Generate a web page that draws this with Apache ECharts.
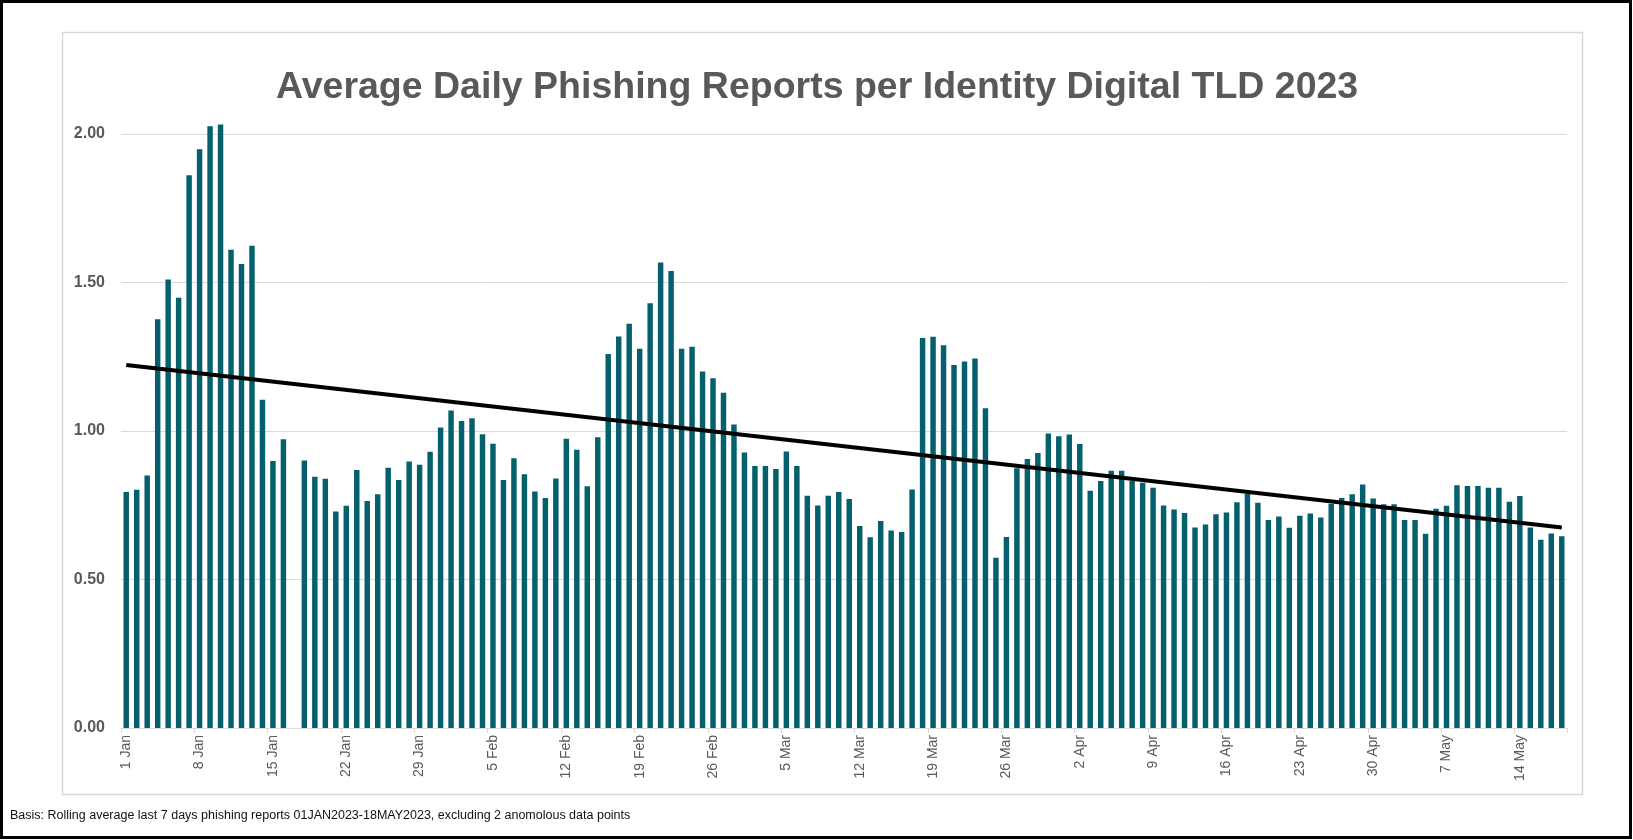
<!DOCTYPE html>
<html>
<head>
<meta charset="utf-8">
<script src="https://cdn.jsdelivr.net/npm/echarts@6/dist/echarts.min.js"></script>
<style>
  html, body { margin: 0; padding: 0; background: #fff; }
  #chart { width: 1633px; height: 840px; }
</style>
</head>
<body>
<div id="chart"></div>
<script>
// ---- data ----
const monthNames = ['Jan', 'Feb', 'Mar', 'Apr', 'May'];
const monthDays = [31, 28, 31, 30, 18];
const categories = [];
monthNames.forEach(function (m, i) {
  for (let d = 1; d <= monthDays[i]; d++) categories.push(d + ' ' + m);
});

// rolling 7-day average per TLD (17 Jan excluded as anomalous)
const valuesJan = [0.795, 0.802, 0.850, 1.376, 1.510, 1.449, 1.861, 1.949, 2.026, 2.032, 1.610, 1.562, 1.624, 1.105, 0.899, 0.972,
  null, 0.901, 0.846, 0.839, 0.729, 0.748, 0.869, 0.764, 0.787, 0.876, 0.835, 0.897, 0.886, 0.930, 1.012];
const valuesFeb = [1.069, 1.034, 1.043, 0.989, 0.957, 0.835, 0.908, 0.854, 0.796, 0.774, 0.840, 0.974, 0.937, 0.814,
  0.979, 1.259, 1.318, 1.361, 1.277, 1.430, 1.567, 1.539, 1.277, 1.284, 1.200, 1.178, 1.129, 1.022];
const valuesMar = [0.928, 0.882, 0.882, 0.872, 0.931, 0.882, 0.782, 0.749, 0.782, 0.795, 0.771, 0.680, 0.642, 0.697, 0.665,
  0.660, 0.803, 1.313, 1.317, 1.289, 1.222, 1.234, 1.244, 1.077, 0.573, 0.643, 0.875, 0.906, 0.926, 0.992, 0.982];
const valuesApr = [0.988, 0.956, 0.799, 0.832, 0.866, 0.866, 0.832, 0.826, 0.809, 0.749, 0.736, 0.724, 0.675, 0.685, 0.720,
  0.726, 0.760, 0.788, 0.758, 0.700, 0.712, 0.674, 0.715, 0.722, 0.709, 0.755, 0.774, 0.787, 0.820, 0.773];
const valuesMay = [0.753, 0.753, 0.700, 0.700, 0.654, 0.738, 0.748, 0.817, 0.815, 0.815, 0.809, 0.809, 0.762, 0.781,
  0.675, 0.634, 0.655, 0.646];
const values = valuesJan.concat(valuesFeb, valuesMar, valuesApr, valuesMay);

// trend line end points (first day, last day)
const trendValues = [1.222, 0.675];

const yTicks = { min: 0, max: 2, interval: 0.5 };

const titleText = 'Average Daily Phishing Reports per Identity Digital TLD 2023';
const footnote = 'Basis: Rolling average last 7 days phishing reports 01JAN2023-18MAY2023, excluding 2 anomolous data points';

// ---- chart ----
const chart = echarts.init(document.getElementById('chart'), null, { renderer: 'canvas' });
const FONT = 'Liberation Sans, Arial, Helvetica, sans-serif';

chart.setOption({
  animation: false,
  backgroundColor: '#ffffff',
  textStyle: { fontFamily: FONT },
  title: {
    text: titleText,
    left: 271,
    top: 64,
    textStyle: { fontFamily: FONT, fontSize: 37.5, fontWeight: 'bold', color: '#595959' }
  },
  graphic: [
    { type: 'rect', shape: { x: 1.5, y: 1.5, width: 1629, height: 836 }, style: { fill: 'none', stroke: '#000', lineWidth: 3 }, silent: true, z: 100 },
    { type: 'rect', shape: { x: 62.5, y: 32.5, width: 1520, height: 762 }, style: { fill: 'none', stroke: '#d9d9d9', lineWidth: 1.5 }, silent: true },
    { type: 'text', left: 10, top: 809, style: { text: footnote, fontFamily: FONT, fontSize: 12.5, fill: '#111' }, silent: true }
  ],
  grid: { left: 121, right: 66, top: 134, bottom: 112, containLabel: false },
  xAxis: {
    type: 'category',
    data: categories,
    boundaryGap: true,
    axisLine: { show: true, lineStyle: { color: '#d9d9d9', width: 1 } },
    axisTick: { show: true, interval: 6, alignWithLabel: false, length: 5, lineStyle: { color: '#d9d9d9' } },
    axisLabel: { interval: 6, rotate: 90, margin: 7, fontSize: 14, color: '#595959', fontFamily: FONT }
  },
  yAxis: {
    type: 'value',
    min: yTicks.min,
    max: yTicks.max,
    interval: yTicks.interval,
    axisLine: { show: false },
    axisTick: { show: false },
    axisLabel: { formatter: function (v) { return v.toFixed(2); }, fontSize: 16, fontWeight: 'bold', color: '#595959', margin: 16, fontFamily: FONT },
    splitLine: { lineStyle: { color: '#d9d9d9', width: 1 } }
  },
  series: [
    {
      type: 'bar',
      data: values,
      barCategoryGap: '48%',
      clip: false,
      itemStyle: { color: '#05606d' },
      markLine: {
        silent: true,
        symbol: ['none', 'arrow'],
        symbolSize: [0, 20],
        label: { show: false },
        lineStyle: { color: '#000', width: 4, type: 'solid' },
        data: [[
          { coord: [categories[0], trendValues[0]] },
          { coord: [categories[categories.length - 1], trendValues[1]] }
        ]]
      }
    }
  ]
});
</script>
</body>
</html>
